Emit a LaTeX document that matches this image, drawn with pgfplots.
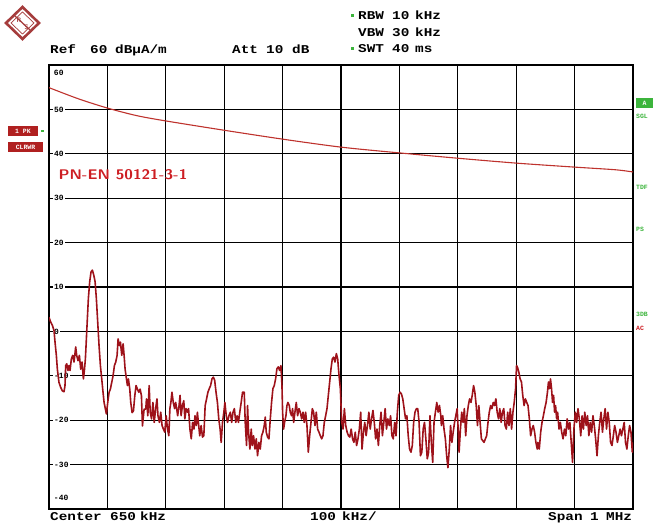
\documentclass[border=0pt]{standalone}
\usepackage{pgfplots}
\pgfplotsset{compat=1.18}
\usepackage{fontspec}
\setmainfont{Liberation Sans}
\setmonofont{Liberation Mono}
\definecolor{trace}{RGB}{158,18,26}
\definecolor{limitc}{RGB}{190,50,45}
\definecolor{txtred}{RGB}{205,30,35}
\definecolor{boxred}{RGB}{176,32,32}
\definecolor{rsgreen}{RGB}{60,180,60}
\definecolor{logoc}{RGB}{165,60,60}
\newcommand\lab{\ttfamily\bfseries\fontsize{8}{8}\selectfont}
\newcommand\hdr{\ttfamily\bfseries\fontsize{12}{12}\selectfont}
\newcommand\HH[1]{\scalebox{1.2}[1]{\hdr #1}}
\newcommand\side{\ttfamily\bfseries\fontsize{6.5}{6.5}\selectfont}
\begin{document}
\begin{tikzpicture}[x=1bp,y=1bp]
\useasboundingbox (0,0) rectangle (655,524);
% logo
\draw[logoc, line width=2.6bp, fill=white] (22.5,517) -- (39,501) -- (22.5,485) -- (6,501) -- cycle;
\draw[logoc, line width=0.7bp] (22.5,512) -- (34,501) -- (22.5,490) -- (11,501) -- cycle;
\draw[logoc, line width=1.3bp] (15,508) -- (30,494);
\node[logoc, font=\sffamily\bfseries\fontsize{6.5}{6.5}\selectfont] at (19,503.5) {R};
\node[logoc, font=\sffamily\bfseries\fontsize{6.5}{6.5}\selectfont] at (26.5,497) {S};
% header
\node[anchor=base west, inner sep=0] at (50,470.5) {\HH{Ref}};
\node[anchor=base west, inner sep=0] at (90,470.5) {\HH{60}};
\node[anchor=base west, inner sep=0] at (115,470.5) {\HH{dBµA/m}};
\node[anchor=base west, inner sep=0] at (232,470.5) {\HH{Att}};
\node[anchor=base west, inner sep=0] at (266,470.5) {\HH{10}};
\node[anchor=base west, inner sep=0] at (292,470.5) {\HH{dB}};
\node[anchor=base west, inner sep=0] at (358,504.5) {\HH{RBW}};
\node[anchor=base west, inner sep=0] at (392,504.5) {\HH{10}};
\node[anchor=base west, inner sep=0] at (415,504.5) {\HH{kHz}};
\node[anchor=base west, inner sep=0] at (358,487.5) {\HH{VBW}};
\node[anchor=base west, inner sep=0] at (392,487.5) {\HH{30}};
\node[anchor=base west, inner sep=0] at (415,487.5) {\HH{kHz}};
\node[anchor=base west, inner sep=0] at (358,471.5) {\HH{SWT}};
\node[anchor=base west, inner sep=0] at (392,471.5) {\HH{40}};
\node[anchor=base west, inner sep=0] at (415,471.5) {\HH{ms}};
\fill[rsgreen] (350.5,506.5) rectangle (353.5,509.5);
\fill[rsgreen] (350.5,473.5) rectangle (353.5,476.5);
% footer
\node[anchor=base west, inner sep=0] at (50,3) {\HH{Center}};
\node[anchor=base west, inner sep=0] at (110,3) {\HH{650}};
\node[anchor=base west, inner sep=0] at (140,3) {\HH{kHz}};
\node[anchor=base west, inner sep=0] at (310,3) {\HH{100}};
\node[anchor=base west, inner sep=0] at (342,3) {\HH{kHz/}};
\node[anchor=base west, inner sep=0] at (548,3) {\HH{Span}};
\node[anchor=base west, inner sep=0] at (590,3) {\HH{1}};
\node[anchor=base west, inner sep=0] at (606,3) {\HH{MHz}};
% left boxes
\fill[boxred] (8,388) rectangle (38,398);
\node[white, anchor=center, inner sep=0] at (23,393) {\side 1 PK};
\fill[rsgreen] (41,392) rectangle (44,393.5);
\fill[boxred] (8,372) rectangle (43,382);
\node[white, anchor=center, inner sep=0] at (25.5,377) {\side CLRWR};
% right labels
\fill[rsgreen] (636,416) rectangle (653,426);
\node[white, anchor=center, inner sep=0] at (644.5,421) {\side A};
\node[rsgreen, anchor=west, inner sep=0] at (636,408) {\side SGL};
\node[rsgreen, anchor=west, inner sep=0] at (636,337) {\side TDF};
\node[rsgreen, anchor=west, inner sep=0] at (636,295) {\side PS};
\node[rsgreen, anchor=west, inner sep=0] at (636,210) {\side 3DB};
\node[txtred, anchor=west, inner sep=0] at (636,196) {\side AC};
\begin{axis}[
  at={(49bp,15bp)}, anchor=south west,
  scale only axis, width=584bp, height=444bp,
  xmin=150, xmax=1150, ymin=-40, ymax=60,
  xtick={150,250,...,1150}, ytick={-40,-30,...,60},
  xticklabels={}, yticklabels={},
  major tick length=0pt,
  grid=major,
  major grid style={black, line width=1.2bp},
  axis line style={black, line width=2.2bp},
]
\draw[black, line width=2bp] (axis cs:650,-40) -- (axis cs:650,60);
% y labels inside
\pgfplotsinvokeforeach{50,40,30,20,10,0,-10,-20,-30}{
  \node[anchor=west, fill=white, inner xsep=1.2bp, inner ysep=0.5bp] at (axis cs:156.5,#1) {\lab #1};
}
\node[anchor=west, inner sep=1bp] at (axis cs:156.5,58.2) {\lab 60};
\node[anchor=west, inner sep=1bp] at (axis cs:156.5,-37.5) {\lab -40};
\node[anchor=west, inner sep=0] at (axis cs:166,35.3) {\scalebox{1.12}[1]{\color{txtred}\sffamily\bfseries\fontsize{14}{14}\selectfont PN-EN 50121-3-1}};
% limit line
\addplot[limitc, line width=1.1bp, smooth] coordinates {
(150,54.9) (200,52.4) (250,50.3) (300,48.6) (350,47.4) (450,45.3) (550,43.3) (650,41.5) (750,40.2) (850,39.0) (950,37.9) (1050,37.0) (1120,36.4) (1150,35.9)
};
% measured trace
\addplot[trace, line width=1.6bp, line join=round] coordinates {
(150.0,3.2) (152.9,2.1) (155.7,1.4) (158.6,0.2) (160.3,-2.4) (162.6,-5.4) (164.3,-8.5) (167.1,-11.5) (170.0,-12.6) (172.9,-13.4)
(175.7,-13.6) (177.4,-12.2) (178.6,-7.7) (180.3,-7.3) (182.6,-8.8) (184.3,-7.7) (186.0,-8.8) (188.3,-6.2) (190.6,-5.4) (192.9,-6.9)
(195.7,-3.5) (197.4,-5.4) (199.7,-6.6) (202.0,-5.4) (204.3,-8.5) (206.6,-6.9) (208.9,-10.7) (210.6,-8.8) (212.3,-6.2) (214.0,-1.7)
(215.7,2.9) (217.4,7.4) (219.7,11.2) (222.0,13.4) (224.3,13.8) (226.6,12.7) (228.9,11.2) (231.1,7.4) (233.4,2.1) (235.7,-3.2)
(238.0,-7.7) (240.3,-10.7) (242.0,-13.0) (244.3,-16.0) (246.6,-17.5) (248.3,-18.6) (250.6,-16.0) (252.9,-13.7) (255.1,-13.0) (257.4,-11.5)
(259.7,-10.0) (262.0,-7.7) (264.3,-6.9) (266.6,-5.4) (268.3,-1.7) (270.6,-3.2) (272.3,-2.4) (274.6,-5.4) (276.9,-2.8) (278.6,-5.4)
(280.3,-8.5) (282.6,-10.7) (284.3,-12.2) (286.0,-10.7) (288.3,-13.0) (290.0,-16.0) (292.3,-18.3) (294.6,-17.9) (296.9,-14.5) (299.1,-12.2)
(301.4,-13.0) (303.7,-13.7) (306.0,-13.0) (308.3,-14.5) (310.0,-21.3) (312.9,-17.5) (315.7,-17.5)
(316.9,-15.2) (319.2,-19) (321.5,-12.2) (323.3,-18.2) (325.6,-19.7) (327.9,-16) (330.2,-20.5) (332.6,-17.4) (334.9,-15.2) (336.6,-19)
(339.0,-20.5) (341.3,-18.2) (343.6,-21.2) (345.9,-22) (348.3,-22.7) (350.6,-19) (352.9,-22) (355.2,-23.5) (357.0,-17.4) (358.7,-16)
(360.5,-13.7) (362.8,-16) (365.1,-17.4) (366.9,-16) (368.6,-17.4) (370.3,-19) (372.7,-16.7) (374.4,-14.4) (376.2,-19) (378.5,-16.7)
(380.8,-15.6) (382.6,-19.7) (384.9,-17.4) (387.2,-18.2) (389.0,-17.4) (391.3,-22) (393.6,-24.2) (395.9,-20.5) (398.3,-22) (400.0,-19)
(402.3,-21.2) (404.1,-18.2) (405.8,-20.5) (408.1,-23.5) (410.5,-21.2) (412.8,-23.8) (415.1,-23.5) (417.4,-16.7) (419.8,-15.2) (422.1,-13.7)
(424.4,-12.9) (426.7,-12.2) (429.1,-10.7) (431.4,-10.3) (433.7,-11.0) (436.0,-13.7) (438.4,-16) (440.7,-19.7) (443.0,-22) (444.8,-25)
(447.1,-20.5) (449.4,-18.2) (451.2,-16) (453.5,-19) (455.8,-20.5) (458.1,-19) (460.5,-18.2) (462.8,-20.5) (465.1,-18.2) (467.4,-17.4)
(469.8,-20.5) (472.1,-19) (474.4,-20.5) (476.7,-18.2) (479.1,-16) (481.4,-13.7)
(484.3,-13.7) (486.0,-20.5) (488.3,-25.7) (490.0,-16.7) (491.7,-22.7) (494.0,-26.5) (496.3,-22) (498.0,-25.7) (500.3,-23.5) (502.6,-26.5)
(504.9,-24.2) (507.1,-28) (509.4,-25) (511.7,-26.5) (514.0,-23.5) (516.3,-22.7) (518.6,-21.2) (520.3,-19.3) (522.0,-22.7) (524.3,-23.8)
(526.6,-24.2) (528.9,-19.7) (531.1,-16) (533.4,-12.9) (535.7,-12.2) (538.0,-10.7) (540.3,-8.4) (542.6,-8.0) (544.9,-8.8) (547.1,-7.7)
(548.9,-12.2) (550.0,-18.2) (551.7,-22) (553.4,-20.5) (555.7,-19) (557.4,-16.7) (559.1,-16) (561.4,-16.7) (563.1,-18.2) (565.4,-19)
(567.1,-17.4) (568.9,-20.5) (571.1,-18.2) (573.4,-16) (575.7,-19) (578.0,-17.4) (580.3,-18.2) (582.6,-19.7) (584.9,-18.2) (587.1,-20.5)
(589.4,-18.2) (591.7,-21.2) (594.0,-27.2) (596.3,-23.5) (598.6,-20.5) (600.9,-17.4) (603.1,-18.2) (605.4,-21.2) (607.7,-18.2) (610.0,-22)
(612.3,-22.7) (614.6,-23.5) (616.9,-24.2) (619.1,-23.5) (621.4,-20.5) (623.7,-19) (626.0,-17.4) (628.3,-14.4) (630.6,-11.4) (632.9,-8.4)
(635.1,-6.2) (637.4,-5.8) (639.7,-6.9) (642.0,-5.0) (644.3,-6.2) (646.6,-9.9) (648.9,-12.9) (651.2,-20.5) (653.5,-22) (655.8,-17.4)
(658.1,-21.2) (660.5,-22.7) (662.8,-23.5) (665.1,-23.8) (667.4,-22) (669.8,-24.2) (672.1,-25) (674.4,-22.7) (676.7,-25.7) (679.1,-24.2)
(681.4,-22) (683.7,-18.2) (686.0,-26.5) (688.4,-22.7) (690.7,-20.5) (693.0,-23.5) (695.3,-21.2) (697.7,-18.2) (700.0,-22) (702.3,-19.7)
(704.7,-17.8) (707.0,-20.5) (709.3,-24.2) (711.6,-22) (714.0,-25.7) (716.3,-21.2) (718.6,-18.2) (720.9,-23.5) (723.3,-20.5) (725.6,-17.4)
(727.9,-22) (730.2,-19.7) (732.6,-21.2) (734.9,-19) (737.2,-23.5) (739.5,-24.2) (741.9,-20.5) (744.2,-23.5) (746.5,-18.2) (748.8,-14.4)
(751.2,-13.7) (753.5,-14.1) (755.8,-15.2) (758.1,-17.4) (760.5,-19.7) (762.8,-19) (765.1,-23.5) (767.4,-26.5) (769.8,-27.2) (772.1,-25.7)
(774.4,-20.5) (776.7,-18.2) (779.1,-17.4) (781.4,-17.4) (783.7,-20.5) (786.0,-28) (788.4,-27.2) (790.7,-22) (793.0,-20.5) (795.3,-24.2)
(797.7,-28.7) (800.0,-27.2) (802.3,-19) (804.7,-25) (807.0,-29.5) (809.3,-20.5) (811.6,-18.2) (814.0,-16) (816.3,-18.2) (818.6,-16.7)
(820.9,-19) (821.9,-21.2) (824.2,-19) (826.4,-22) (828.7,-24.2) (830.9,-28) (833.1,-30.7) (835.4,-26.5) (837.6,-21.2) (839.9,-25)
(842.1,-22.7) (844.4,-20.5) (846.6,-19) (848.9,-17.4) (850.6,-22) (852.2,-27.2) (854.5,-22) (856.7,-18.2) (859.0,-20.5) (861.2,-17.4)
(863.5,-23.5) (865.7,-19) (868.0,-16.7) (870.2,-15.2) (872.5,-16) (874.7,-14.4) (877.0,-12.2) (879.2,-13.7) (881.5,-16.7) (883.7,-21.2)
(886.0,-16.7) (888.2,-20.5) (890.4,-24.2) (892.7,-24.6) (894.9,-25) (897.2,-24.2) (899.4,-23.5) (901.7,-20.5) (903.9,-18.2) (906.2,-16.7)
(908.4,-17.4) (910.7,-16) (912.9,-16.7) (915.2,-15.2) (917.4,-18.2) (919.7,-19.7) (921.9,-17.4) (924.2,-20.5) (926.4,-18.2) (928.7,-17.4)
(930.9,-21.2) (933.1,-22) (935.4,-18.2) (937.6,-21.2) (939.9,-17.4) (942.1,-22) (944.4,-18.2) (946.6,-16) (948.9,-12.9) (950.6,-7.7)
(952.2,-8.1) (954.5,-9.2) (956.7,-10.7) (959.0,-11.4) (961.2,-14.4) (963.5,-16.7) (965.7,-15.2) (968.0,-16) (970.2,-16.7) (972.5,-19.7)
(974.7,-23.5) (977.0,-22) (979.2,-21.2) (981.5,-22.7) (983.7,-25) (986.0,-26.5) (987.2,-25) (989.5,-26.5) (991.9,-22.7) (994.2,-20.5)
(996.5,-19) (998.8,-17.4) (1001.2,-16) (1003.5,-13.7) (1005.2,-11.4) (1007.0,-12.9) (1008.7,-10.7) (1010.5,-12.9) (1012.2,-16) (1014.0,-14.4)
(1015.7,-18.2) (1017.4,-16.7) (1019.2,-19.7) (1020.9,-18.2) (1023.3,-22) (1025.6,-20.5) (1027.9,-22.7) (1030.2,-24.2) (1032.6,-22) (1034.9,-23.5)
(1037.2,-19.7) (1039.5,-22) (1041.9,-20.5) (1044.2,-25) (1046.5,-29.5) (1048.8,-22) (1051.2,-18.2) (1053.5,-20.5) (1055.8,-17.4) (1058.1,-19.7)
(1060.5,-23.5) (1062.8,-19) (1065.1,-22) (1067.4,-18.2) (1069.8,-21.2) (1072.1,-19) (1074.4,-23.5) (1076.7,-20.5) (1079.1,-22.7) (1081.4,-19)
(1083.7,-21.2) (1086.0,-24.2) (1088.4,-28) (1090.7,-23.5) (1093.0,-20.5) (1095.3,-18.2) (1097.7,-22.7) (1100.0,-19.7) (1102.3,-17.4) (1104.7,-22)
(1107.0,-18.2) (1109.3,-20.5) (1111.6,-25) (1114.0,-25.7) (1116.3,-23.5) (1118.6,-21.2) (1120.9,-22.7) (1123.3,-25) (1125.6,-23.5) (1127.9,-22)
(1130.2,-23.5) (1132.6,-22) (1134.9,-20.5) (1137.2,-25) (1139.5,-26.5) (1141.9,-23.5) (1144.2,-21.2) (1146.5,-22.7) (1148.8,-27.2) (1150.0,-25)
};
\end{axis}
\end{tikzpicture}
\end{document}
